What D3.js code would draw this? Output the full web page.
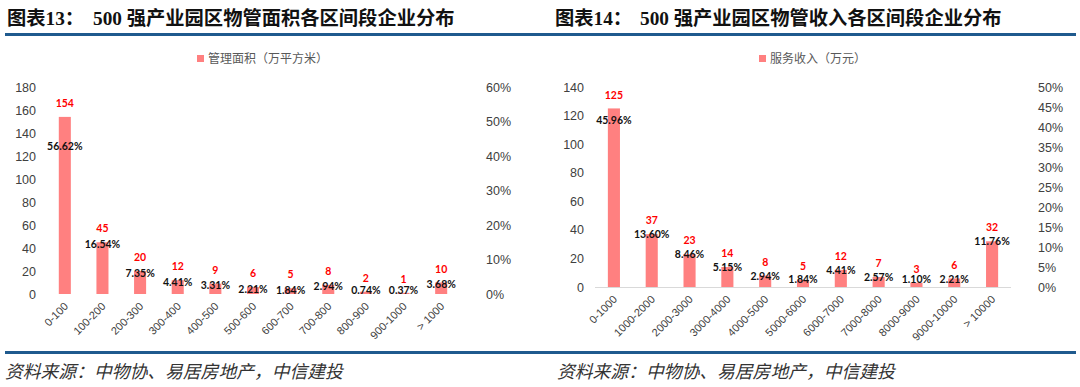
<!DOCTYPE html>
<html><head><meta charset="utf-8">
<script src="https://cdn.jsdelivr.net/npm/d3@7"></script>
<style>
html,body{margin:0;padding:0;background:#fff;}
svg{display:block;}
</style></head>
<body>
<svg id="c" width="1080" height="387"></svg>
<script>
// ---------- data ----------
const leftCategories = ["0-100","100-200","200-300","300-400","400-500","500-600","600-700","700-800","800-900","900-1000","> 1000"];
const leftCounts = [154,45,20,12,9,6,5,8,2,1,10];
const leftShares = [56.62,16.54,7.35,4.41,3.31,2.21,1.84,2.94,0.74,0.37,3.68];
const leftCountTicks = [0,20,40,60,80,100,120,140,160,180];
const leftShareTicks = [0,10,20,30,40,50,60];
const leftSeriesName = "管理面积（万平方米）";

const rightCategories = ["0-1000","1000-2000","2000-3000","3000-4000","4000-5000","5000-6000","6000-7000","7000-8000","8000-9000","9000-10000","> 10000"];
const rightCounts = [125,37,23,14,8,5,12,7,3,6,32];
const rightShares = [45.96,13.60,8.46,5.15,2.94,1.84,4.41,2.57,1.10,2.21,11.76];
const rightCountTicks = [0,20,40,60,80,100,120,140];
const rightShareTicks = [0,5,10,15,20,25,30,35,40,45,50];
const rightSeriesName = "服务收入（万元）";

const titles = [
  {prefix:"图表", num:"13", rest:"强产业园区物管面积各区间段企业分布"},
  {prefix:"图表", num:"14", rest:"强产业园区物管收入各区间段企业分布"}
];
const sourceText = "资料来源：中物协、易居房地产，中信建投";

// ---------- drawing ----------
const svg = d3.select("#c");
const BAR = "#FF8080";
const BLUE = "#1F5A8E";
const AXIS_TXT = "#404040";

svg.append("line").attr("x1",5).attr("x2",1076).attr("y1",34.5).attr("y2",34.5)
  .attr("stroke",BLUE).attr("stroke-width",3);
svg.append("line").attr("x1",5).attr("x2",1076).attr("y1",352.5).attr("y2",352.5)
  .attr("stroke",BLUE).attr("stroke-width",3);

function drawTitle(t, x0, x1){
  const g = svg.append("text").attr("x",x0).attr("y",25)
    .attr("font-size",19.3).attr("font-weight","bold").attr("fill","#111");
  g.append("tspan").attr("font-family","'Noto Sans CJK SC'").text(t.prefix);
  g.append("tspan").attr("font-family","'Liberation Serif'").text(t.num);
  g.append("tspan").attr("font-family","'Noto Sans CJK SC'").text("：");
  const g2 = svg.append("text").attr("x",x1).attr("y",25)
    .attr("font-size",19.3).attr("font-weight","bold").attr("fill","#111");
  g2.append("tspan").attr("font-family","'Liberation Serif'").text("500 ");
  g2.append("tspan").attr("font-family","'Noto Sans CJK SC'").text(t.rest);
}
drawTitle(titles[0], 7, 93);
drawTitle(titles[1], 555, 640);

function drawSource(x){
  svg.append("text").attr("x",x).attr("y",378)
    .attr("font-family","'Noto Sans CJK SC'").attr("font-size",17.8)
    .attr("font-style","italic").attr("fill","#333")
    .text(sourceText);
}
drawSource(5);
drawSource(557);

function drawChart(cfg){
  const g = svg.append("g");
  const x = d3.scaleBand().domain(cfg.categories).range([cfg.x0,cfg.x1]).paddingInner(0.68).paddingOuter(0.34);
  const y = d3.scaleLinear().domain([0,cfg.countTicks[cfg.countTicks.length-1]]).range([cfg.base,cfg.top]);
  const y2 = d3.scaleLinear().domain([0,cfg.shareTicks[cfg.shareTicks.length-1]]).range([cfg.base,cfg.top]);

  const la = g.append("g").attr("transform",`translate(${cfg.leftAxisX},0)`)
    .call(d3.axisLeft(y).tickValues(cfg.countTicks).tickSize(0).tickPadding(0));
  la.select(".domain").remove();
  la.selectAll("text").attr("font-family","'Liberation Sans', Arial").attr("font-size",12.5).attr("fill",AXIS_TXT);

  const ra = g.append("g").attr("transform",`translate(${cfg.rightAxisX},0)`)
    .call(d3.axisRight(y2).tickValues(cfg.shareTicks).tickSize(0).tickPadding(0).tickFormat(d=>d+"%"));
  ra.select(".domain").remove();
  ra.selectAll("text").attr("font-family","'Liberation Sans', Arial").attr("font-size",12.5).attr("fill",AXIS_TXT);

  if(cfg.axisLine){
    g.append("line").attr("x1",cfg.x0).attr("x2",cfg.x1).attr("y1",cfg.base+0.5).attr("y2",cfg.base+0.5)
      .attr("stroke","#D9D9D9").attr("stroke-width",1);
  }

  g.selectAll("rect.bar").data(cfg.counts).join("rect").attr("class","bar")
    .attr("x",(d,i)=>x(cfg.categories[i]))
    .attr("width",x.bandwidth())
    .attr("y",d=>y(d))
    .attr("height",d=>cfg.base-y(d))
    .attr("fill",BAR);

  const xa = g.append("g").attr("transform",`translate(0,${cfg.base})`)
    .call(d3.axisBottom(x).tickSize(0).tickPadding(0));
  xa.select(".domain").remove();
  xa.selectAll("text")
    .attr("font-family","'Liberation Sans', Arial").attr("font-size",11).attr("fill",AXIS_TXT)
    .attr("text-anchor","end")
    .attr("dy",null).attr("y",null)
    .attr("transform","translate(4,13) rotate(-45)");

  const maxV = d3.max(cfg.counts);
  g.selectAll("text.cnt").data(cfg.counts).join("text").attr("class","cnt")
    .attr("x",(d,i)=>x(cfg.categories[i])+x.bandwidth()/2)
    .attr("y",d=>y(d)-13.5)
    .attr("dy","0.35em")
    .attr("text-anchor","middle")
    .attr("font-family","Lato, 'Open Sans', sans-serif").attr("font-weight","bold")
    .attr("font-size",10.5).attr("fill","#FF0000")
    .text(d=>d);

  g.selectAll("text.pct").data(cfg.shares).join("text").attr("class","pct")
    .attr("x",(d,i)=>x(cfg.categories[i])+x.bandwidth()/2)
    .attr("y",(d,i)=>{
      const v = cfg.counts[i];
      if(v===maxV) return y(v)+cfg.peakDrop;
      return Math.min(y(v)+cfg.pctDrop, cfg.base-cfg.pctFloor);
    })
    .attr("dy","0.35em")
    .attr("text-anchor","middle")
    .attr("font-family","Lato, 'Open Sans', sans-serif").attr("font-weight","bold")
    .attr("font-size",10.5).attr("fill","#111")
    .text(d=>d.toFixed(2)+"%");

  g.append("rect").attr("x",cfg.legendX).attr("y",55).attr("width",7).attr("height",7).attr("fill",BAR);
  g.append("text").attr("x",cfg.legendX+11).attr("y",58.5).attr("dy","0.35em")
    .attr("font-family","'Noto Sans CJK SC'").attr("font-size",12).attr("fill","#595959")
    .text(cfg.name);
}

drawChart({
  categories:leftCategories, counts:leftCounts, shares:leftShares,
  countTicks:leftCountTicks, shareTicks:leftShareTicks, name:leftSeriesName,
  x0:46, x1:460, base:294, top:87, leftAxisX:36, rightAxisX:486,
  axisLine:false, peakDrop:29, pctDrop:2, pctFloor:3.5, legendX:197
});
drawChart({
  categories:rightCategories, counts:rightCounts, shares:rightShares,
  countTicks:rightCountTicks, shareTicks:rightShareTicks, name:rightSeriesName,
  x0:595, x1:1011, base:287, top:87, leftAxisX:584, rightAxisX:1038,
  axisLine:true, peakDrop:12, pctDrop:0.5, pctFloor:7.5, legendX:759
});
</script>
</body></html>
